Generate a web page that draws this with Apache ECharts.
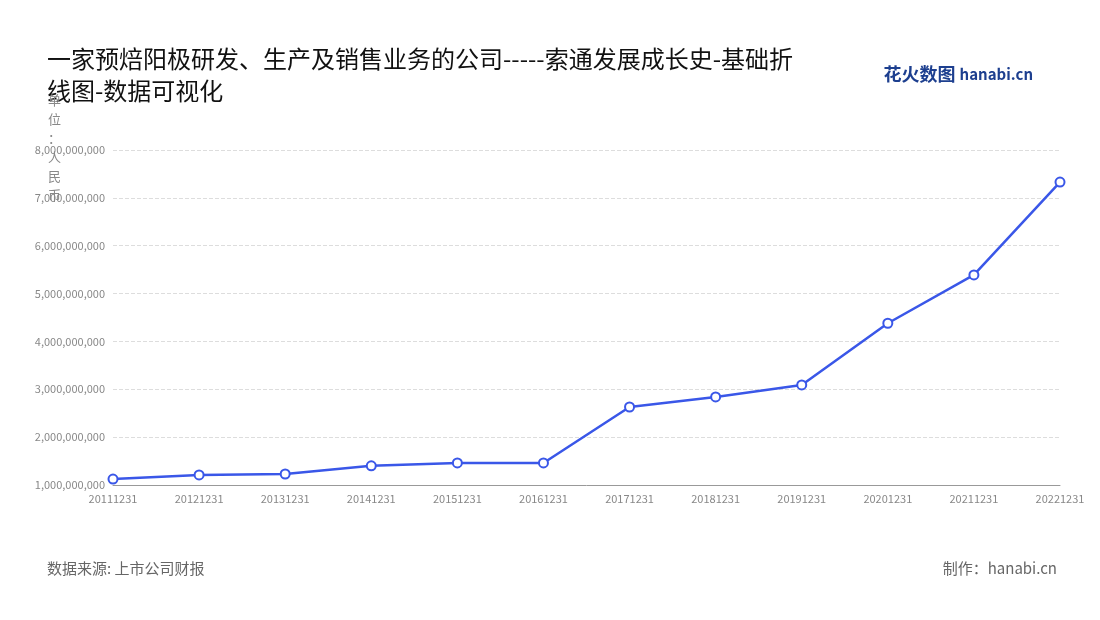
<!DOCTYPE html>
<html>
<head><meta charset="utf-8"></head>
<body style="margin:0">
<div id="c" style="width:1100px;height:620px"></div>
<script src="https://cdn.jsdelivr.net/npm/echarts@6/dist/echarts.min.js"></script>
<script>
var years = ['20111231','20121231','20131231','20141231','20151231','20161231','20171231','20181231','20191231','20201231','20211231','20221231'];
var revenue = [1125000000,1210000000,1230000000,1400000000,1460000000,1460000000,2630000000,2840000000,3090000000,4380000000,5390000000,7330000000];
var ff = '"Noto Sans CJK SC","Noto Sans",sans-serif';
var chart = echarts.init(document.getElementById('c'));
chart.setOption({
  animation: false,
  textStyle: {fontFamily: ff},
  title: [{
    text: '一家预焙阳极研发、生产及销售业务的公司-----索通发展成长史-基础折\n线图-数据可视化',
    left: 42, top: 38,
    textStyle: {fontSize: 24, fontWeight: 'normal', color: '#111', lineHeight: 32, fontFamily: ff}
  }, {
    text: '单\n位\n：\n人\n民\n币', left: 43, top: 86,
    textStyle: {fontSize: 13, fontWeight: 'normal', color: '#888', lineHeight: 19, fontFamily: ff}
  }, {
    text: '数据来源: 上市公司财报', left: 42, top: 556,
    textStyle: {fontSize: 15, fontWeight: 'normal', color: '#666', fontFamily: ff}
  }, {
    text: '制作：hanabi.cn', right: 38, top: 556,
    textStyle: {fontSize: 15, fontWeight: 'normal', color: '#666', fontFamily: ff}
  }, {
    text: '花火数图 {b|hanabi.cn}', right: 62, top: 60,
    textStyle: {fontSize: 18, fontWeight: 'bold', color: '#1d3f8f', fontFamily: ff,
      rich: {b: {fontSize: 15, fontWeight: 'bold', color: '#1d3f8f'}}}
  }],
  grid: {left: 113, right: 40, top: 150, bottom: 135},
  xAxis: {
    type: 'category', data: years, boundaryGap: false,
    axisLine: {lineStyle: {color: '#999'}},
    axisTick: {show: false},
    axisLabel: {color: '#888', fontSize: 11, interval: 0}
  },
  yAxis: {
    type: 'value', min: 1000000000, max: 8000000000, interval: 1000000000,
    axisLine: {show: false}, axisTick: {show: false},
    axisLabel: {color: '#888', fontSize: 11, formatter: function (v) { return v.toLocaleString('en-US'); }},
    splitLine: {lineStyle: {type: 'dashed', color: '#ddd'}}
  },
  series: [{
    type: 'line', data: revenue,
    symbol: 'circle', symbolSize: 9,
    lineStyle: {color: '#3a57e8', width: 2.5},
    itemStyle: {color: '#fff', borderColor: '#3a57e8', borderWidth: 2}
  }]
});
</script>
</body>
</html>
